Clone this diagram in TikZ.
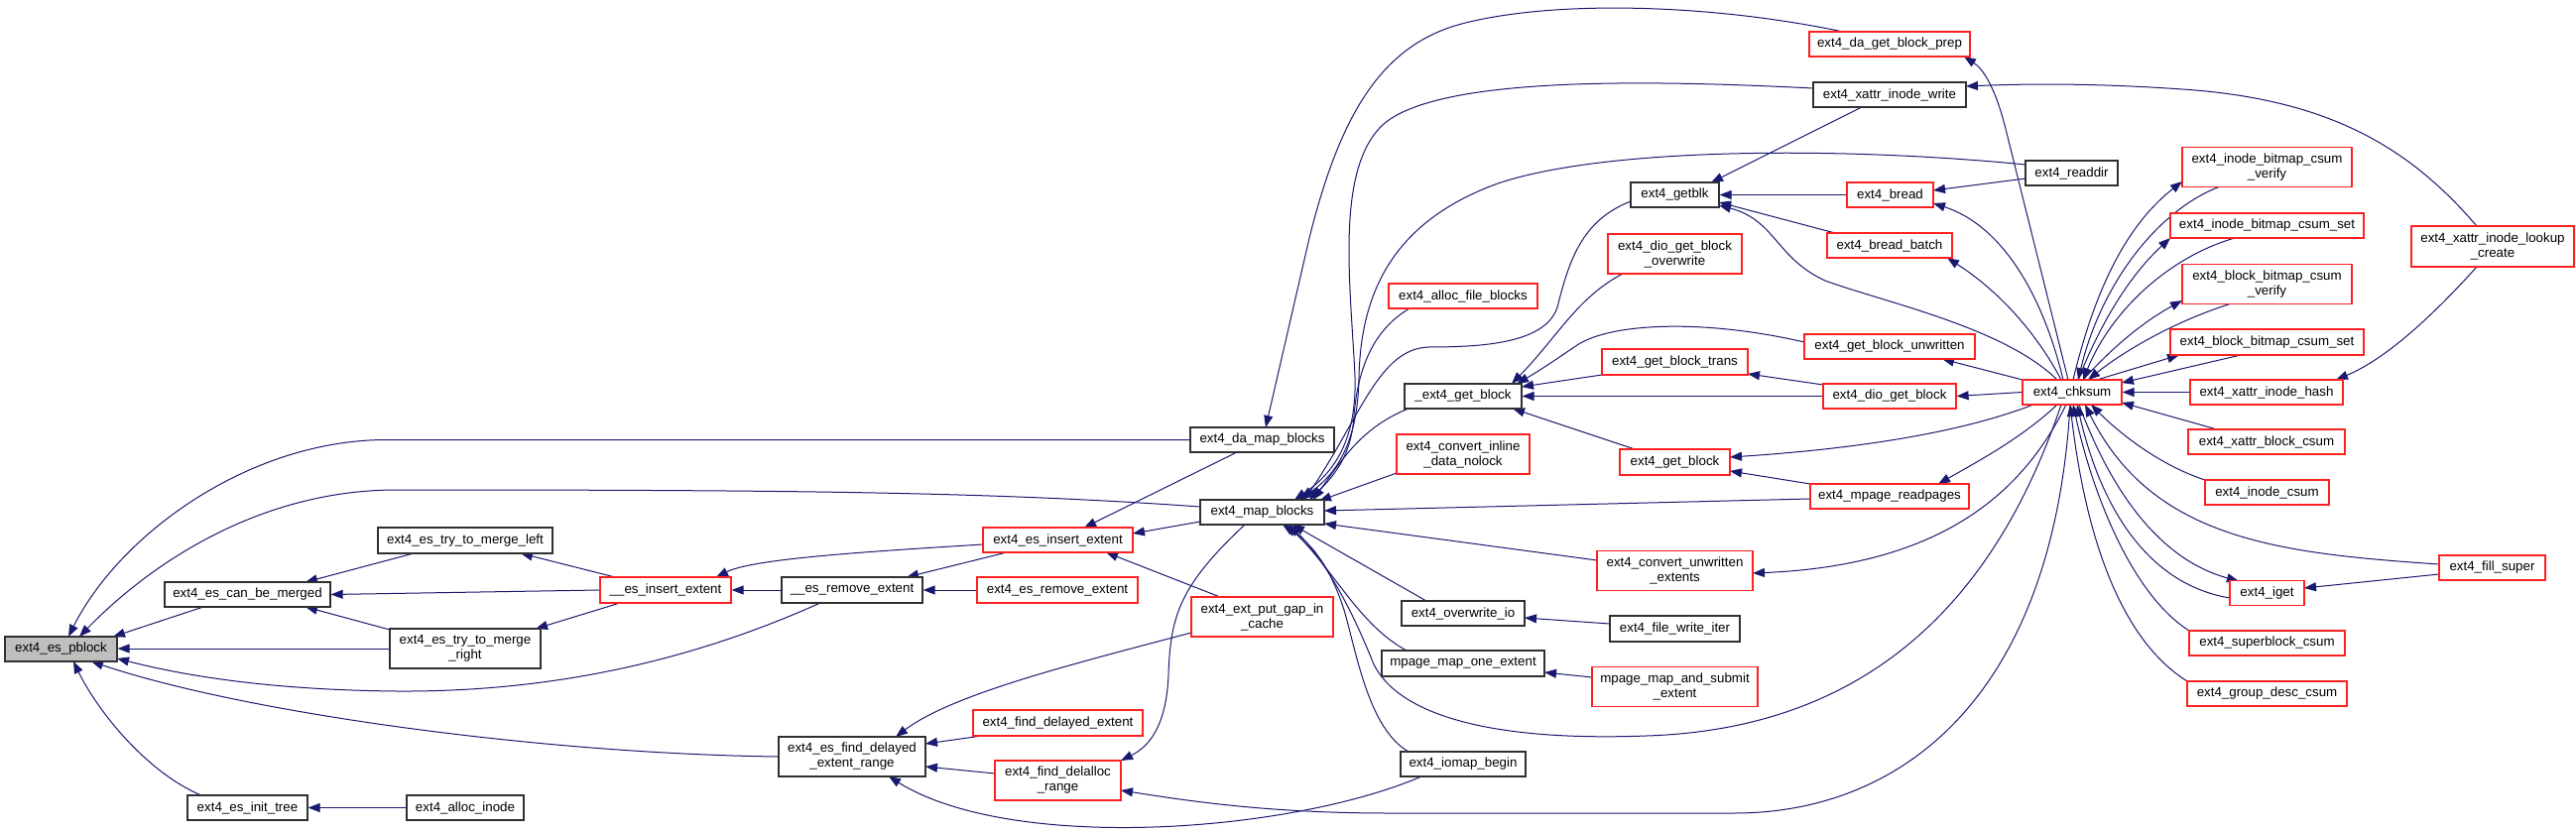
\documentclass[tikz,border=0pt]{standalone}
\usepackage{fontspec}
\setmainfont{Liberation Sans}
\usetikzlibrary{arrows.meta}
\definecolor{edgec}{HTML}{191970}
\definecolor{redc}{HTML}{FF2020}
\definecolor{grayfill}{HTML}{BFBFBF}
\definecolor{blk}{HTML}{303030}
\newcommand\dxfont{\fontsize{13.33}{15}\selectfont}
\pgfdeclarelayer{back}
\pgfdeclarelayer{edges}
\pgfsetlayers{back,edges,main}
\begin{document}
\begin{tikzpicture}[x=1pt,y=-1pt,
  nb/.style={draw=blk, line width=1.2pt, fill=white, inner sep=0pt, align=center, font=\dxfont},
  nr/.style={nb, draw=redc},
  e/.style={draw=edgec, line width=1pt, -{Triangle[length=12pt,width=9pt]}}]
\begin{pgfonlayer}{back}
\fill[white] (0,0) rectangle (2597,840);
\end{pgfonlayer}
\useasboundingbox (0,0) rectangle (2597,840);
% nodes
\node[nb, fill=grayfill, minimum width=113pt, minimum height=25pt] (pblock) at (61.5,654.5) {ext4\_es\_pblock};
\node[nb, minimum width=167pt, minimum height=25pt] (canmerged) at (249.5,599.5) {ext4\_es\_can\_be\_merged};
\node[nb, minimum width=121pt, minimum height=25pt] (inittree) at (249.5,814.5) {ext4\_es\_init\_tree};
\node[nb, minimum width=176pt, minimum height=26pt] (mergeleft) at (469,545) {ext4\_es\_try\_to\_merge\_left};
\node[nb, minimum width=152pt, minimum height=40pt] (mergeright) at (469,654) {ext4\_es\_try\_to\_merge\\\_right};
\node[nb, minimum width=118pt, minimum height=25pt] (allocinode) at (469,814.5) {ext4\_alloc\_inode};
\node[nr, minimum width=132pt, minimum height=26pt] (esinsert) at (671,595) {\_\_es\_insert\_extent};
\node[nb, minimum width=142pt, minimum height=26pt] (esremove) at (859,595) {\_\_es\_remove\_extent};
\node[nb, minimum width=148pt, minimum height=40pt] (fdr) at (859,763) {ext4\_es\_find\_delayed\\\_extent\_range};
\node[nr, minimum width=151pt, minimum height=25pt] (esinsext) at (1066.5,544.5) {ext4\_es\_insert\_extent};
\node[nr, minimum width=162pt, minimum height=26pt] (esremext) at (1066,595) {ext4\_es\_remove\_extent};
\node[nr, minimum width=171pt, minimum height=26pt] (finddelext) at (1066.5,729) {ext4\_find\_delayed\_extent};
\node[nr, minimum width=127pt, minimum height=40pt] (finddelalloc) at (1066.5,787) {ext4\_find\_delalloc\\\_range};
\node[nb, minimum width=145pt, minimum height=25pt] (damap) at (1272.5,443.5) {ext4\_da\_map\_blocks};
\node[nb, minimum width=125pt, minimum height=25pt] (mapb) at (1272.5,516.5) {ext4\_map\_blocks};
\node[nr, minimum width=143pt, minimum height=40pt] (putgap) at (1272.5,622) {ext4\_ext\_put\_gap\_in\\\_cache};
\node[nr, minimum width=150pt, minimum height=25pt] (allocfile) at (1475,298.5) {ext4\_alloc\_file\_blocks};
\node[nb, minimum width=89pt, minimum height=25pt] (getblk) at (1688.5,196.5) {ext4\_getblk};
\node[nr, minimum width=135pt, minimum height=40pt] (diooverwrite) at (1688.5,256) {ext4\_dio\_get\_block\\\_overwrite};
\node[nr, minimum width=147pt, minimum height=26pt] (gbtrans) at (1688.5,365) {ext4\_get\_block\_trans};
\node[nb, minimum width=118pt, minimum height=25pt] (exgb) at (1475,399.5) {\_ext4\_get\_block};
\node[nr, minimum width=134pt, minimum height=40pt] (convinline) at (1475,458) {ext4\_convert\_inline\\\_data\_nolock};
\node[nr, minimum width=111pt, minimum height=26pt] (getblock) at (1688.5,466) {ext4\_get\_block};
\node[nr, minimum width=157pt, minimum height=40pt] (convunwr) at (1688.5,575.5) {ext4\_convert\_unwritten\\\_extents};
\node[nb, minimum width=124pt, minimum height=25pt] (overwriteio) at (1475,618.5) {ext4\_overwrite\_io};
\node[nb, minimum width=131pt, minimum height=26pt] (filewrite) at (1688.5,634) {ext4\_file\_write\_iter};
\node[nb, minimum width=164pt, minimum height=26pt] (mpageone) at (1475,669) {mpage\_map\_one\_extent};
\node[nr, minimum width=167pt, minimum height=40pt] (mpagesubmit) at (1688.5,692.5) {mpage\_map\_and\_submit\\\_extent};
\node[nb, minimum width=126pt, minimum height=25pt] (iomap) at (1475,770.5) {ext4\_iomap\_begin};
\node[nr, minimum width=162pt, minimum height=25pt] (daprep) at (1905,44.5) {ext4\_da\_get\_block\_prep};
\node[nb, minimum width=154pt, minimum height=25pt] (xattrwrite) at (1905,95.5) {ext4\_xattr\_inode\_write};
\node[nr, minimum width=87pt, minimum height=25pt] (bread) at (1905.5,196.5) {ext4\_bread};
\node[nr, minimum width=126pt, minimum height=25pt] (breadbatch) at (1905,247.5) {ext4\_bread\_batch};
\node[nr, minimum width=172pt, minimum height=25pt] (gbunwr) at (1905,349.5) {ext4\_get\_block\_unwritten};
\node[nr, minimum width=134pt, minimum height=25pt] (diogb) at (1905,399.5) {ext4\_dio\_get\_block};
\node[nr, minimum width=160pt, minimum height=25pt] (mpreadpages) at (1905,500.5) {ext4\_mpage\_readpages};
\node[nb, minimum width=93pt, minimum height=25pt] (readdir) at (2088.5,174.5) {ext4\_readdir};
\node[nr, minimum width=100pt, minimum height=25pt] (chksum) at (2089,395.5) {ext4\_chksum};
\node[nr, minimum width=171pt, minimum height=40pt] (ibcv) at (2285.5,168.5) {ext4\_inode\_bitmap\_csum\\\_verify};
\node[nr, minimum width=195pt, minimum height=25pt] (ibcs) at (2285.5,227.5) {ext4\_inode\_bitmap\_csum\_set};
\node[nr, minimum width=171pt, minimum height=40pt] (bbcv) at (2285.5,286.5) {ext4\_block\_bitmap\_csum\\\_verify};
\node[nr, minimum width=195pt, minimum height=26pt] (bbcs) at (2285.5,345) {ext4\_block\_bitmap\_csum\_set};
\node[nr, minimum width=154pt, minimum height=25pt] (xih) at (2285,395.5) {ext4\_xattr\_inode\_hash};
\node[nr, minimum width=158pt, minimum height=25pt] (xbc) at (2285,445.5) {ext4\_xattr\_block\_csum};
\node[nr, minimum width=125pt, minimum height=25pt] (icsum) at (2285.5,496.5) {ext4\_inode\_csum};
\node[nr, minimum width=75pt, minimum height=25pt] (iget) at (2285.5,598) {ext4\_iget};
\node[nr, minimum width=157pt, minimum height=25pt] (sbcsum) at (2285.5,648.5) {ext4\_superblock\_csum};
\node[nr, minimum width=161pt, minimum height=25pt] (gdcsum) at (2285.5,699.5) {ext4\_group\_desc\_csum};
\node[nr, minimum width=164pt, minimum height=41pt] (lookup) at (2513,248.5) {ext4\_xattr\_inode\_lookup\\\_create};
\node[nr, minimum width=107pt, minimum height=25pt] (fillsuper) at (2512.5,572.5) {ext4\_fill\_super};
% edges
\begin{pgfonlayer}{edges}
\draw[e] ([shift={(-44.5,12.5)}]canmerged.center) -- ([shift={(52.5,-12.5)}]pblock.center);
\draw[e] (mergeright.west) -- (pblock.east |- mergeright.west);
\draw[e] (damap.west) -- (390,443.5) .. controls (250,443.5) and (120,540) .. ([shift={(7.5,-12.5)}]pblock.center);
\draw[e] ([shift={(-62.5,-5.5)}]mapb.center) .. controls (1000,496) and (800,494) .. (400,494) .. controls (260,494) and (150,570) .. ([shift={(18.5,-12.5)}]pblock.center);
\draw[e] ([shift={(-32,13)}]esremove.center) .. controls (700,665) and (560,698) .. (400,697) .. controls (290,696) and (200,685) .. ([shift={(56.5,9.5)}]pblock.center);
\draw[e] (fdr.west) .. controls (550,760) and (250,720) .. ([shift={(30.5,12.5)}]pblock.center);
\draw[e] ([shift={(-46.5,-12.5)}]inittree.center) .. controls (150,780) and (100,720) .. ([shift={(12.5,12.5)}]pblock.center);
\draw[e] (allocinode.west) -- (inittree.east);
\draw[e] ([shift={(-52,13)}]mergeleft.center) -- ([shift={(58.5,-12.5)}]canmerged.center);
\draw[e] ([shift={(-76,-19)}]mergeright.center) -- ([shift={(58.5,12.5)}]canmerged.center);
\draw[e] (esinsert.west) -- (canmerged.east);
\draw[e] ([shift={(-51,-13)}]esinsert.center) -- ([shift={(56,13)}]mergeleft.center);
\draw[e] ([shift={(-46,13)}]esinsert.center) -- ([shift={(71,-20)}]mergeright.center);
\draw[e] (esremove.west) -- (esinsert.east);
\draw[e] ([shift={(-75.5,4.5)}]esinsext.center) .. controls (880,556) and (760,563) .. ([shift={(51,-13)}]esinsert.center);
\draw[e] ([shift={(-51.5,12.5)}]esinsext.center) -- ([shift={(55,-13)}]esremove.center);
\draw[e] (esremext.west) -- (esremove.east);
\draw[e] ([shift={(-25.5,12.5)}]damap.center) -- ([shift={(26.5,-12.5)}]esinsext.center);
\draw[e] ([shift={(-62.5,9.5)}]mapb.center) -- ([shift={(75.5,-6.5)}]esinsext.center);
\draw[e] ([shift={(-42.5,-20)}]putgap.center) -- ([shift={(48.5,12.5)}]esinsext.center);
\draw[e] ([shift={(-71.5,16)}]putgap.center) .. controls (1080,670) and (960,700) .. ([shift={(44,-20)}]fdr.center);
\draw[e] ([shift={(-76.5,13)}]finddelext.center) -- ([shift={(74,-13)}]fdr.center);
\draw[e] ([shift={(-63.5,-7)}]finddelalloc.center) -- ([shift={(74,10)}]fdr.center);
\draw[e] ([shift={(-42,12.5)}]iomap.center) .. controls (1300,840) and (1020,860) .. ([shift={(37,20)}]fdr.center);
\draw[e] ([shift={(-17.5,12.5)}]mapb.center) .. controls (1190,590) and (1180,620) .. (1178,680) .. controls (1176,730) and (1160,752) .. ([shift={(63.5,-20)}]finddelalloc.center);
\draw[e] ([shift={(-2,12.5)}]chksum.center) .. controls (2070,700) and (1920,820) .. (1748,820) -- (1400,820) .. controls (1280,820) and (1200,808) .. ([shift={(63.5,10)}]finddelalloc.center);
\draw[e] ([shift={(-47,-12.5)}]daprep.center) .. controls (1720,3) and (1560,0) .. (1470,25) .. controls (1390,48) and (1350,120) .. (1320,240) -- ([shift={(3.5,-12.5)}]damap.center);
\draw[e] ([shift={(-77,-6.5)}]xattrwrite.center) .. controls (1650,80) and (1450,78) .. (1395,125) .. controls (1345,170) and (1362,290) .. (1366,380) .. controls (1368,450) and (1340,480) .. ([shift={(32.5,-12.5)}]mapb.center);
\draw[e] ([shift={(-46.5,-8.5)}]readdir.center) .. controls (1860,148) and (1620,148) .. (1510,185) .. controls (1400,225) and (1372,300) .. (1370,380) .. controls (1369,450) and (1345,480) .. ([shift={(37.5,-12.5)}]mapb.center);
\draw[e] ([shift={(-44.5,6.5)}]getblk.center) .. controls (1595,222) and (1582,262) .. (1570,310) .. controls (1558,345) and (1500,350) .. (1440,350) .. controls (1390,352) and (1372,420) .. ([shift={(42.5,-12.5)}]mapb.center);
\draw[e] ([shift={(-54,12.5)}]allocfile.center) .. controls (1380,335) and (1368,380) .. (1365,420) .. controls (1362,460) and (1345,480) .. ([shift={(47.5,-12.5)}]mapb.center);
\draw[e] ([shift={(-55,12.5)}]exgb.center) .. controls (1375,430) and (1355,460) .. ([shift={(51.5,-12.5)}]mapb.center);
\draw[e] ([shift={(-67,19)}]convinline.center) -- ([shift={(57.5,-11.5)}]mapb.center);
\draw[e] ([shift={(-80,2.5)}]mpreadpages.center) -- ([shift={(62.5,-1.5)}]mapb.center);
\draw[e] ([shift={(-78.5,-10.5)}]convunwr.center) -- ([shift={(62.5,11.5)}]mapb.center);
\draw[e] ([shift={(-37,-12.5)}]overwriteio.center) -- ([shift={(30.5,12.5)}]mapb.center);
\draw[e] ([shift={(-57,-13)}]mpageone.center) .. controls (1370,630) and (1345,575) .. ([shift={(24.5,12.5)}]mapb.center);
\draw[e] ([shift={(-11,12.5)}]chksum.center) .. controls (2010,610) and (1880,735) .. (1660,742) .. controls (1500,748) and (1410,720) .. (1385,670) .. controls (1365,620) and (1340,570) .. ([shift={(27.5,12.5)}]mapb.center);
\draw[e] ([shift={(-55,-12.5)}]iomap.center) .. controls (1380,735) and (1368,660) .. (1355,615) .. controls (1342,575) and (1325,550) .. ([shift={(20.5,12.5)}]mapb.center);
\draw[e] ([shift={(-52.5,20)}]diooverwrite.center) .. controls (1590,300) and (1570,340) .. ([shift={(49,-12.5)}]exgb.center);
\draw[e] ([shift={(-73.5,13)}]gbtrans.center) -- ([shift={(59,-9.5)}]exgb.center);
\draw[e] ([shift={(-86,-4.5)}]gbunwr.center) .. controls (1720,322) and (1625,325) .. (1590,348) .. controls (1565,365) and (1550,375) .. ([shift={(54,-12.5)}]exgb.center);
\draw[e] (diogb.west) -- (exgb.east);
\draw[e] ([shift={(-40.5,-13)}]getblock.center) -- ([shift={(50,12.5)}]exgb.center);
\draw[e] ([shift={(-67,-11.5)}]diogb.center) -- ([shift={(73.5,12)}]gbtrans.center);
\draw[e] ([shift={(-39,12.5)}]chksum.center) .. controls (1980,435) and (1880,452) .. ([shift={(55.5,-5)}]getblock.center);
\draw[e] ([shift={(-80,-12.5)}]mpreadpages.center) -- ([shift={(55.5,9)}]getblock.center);
\draw[e] ([shift={(-15,12.5)}]chksum.center) .. controls (2040,440) and (2000,462) .. ([shift={(49,-12.5)}]mpreadpages.center);
\draw[e] ([shift={(-6,12.5)}]chksum.center) .. controls (2040,495) and (1960,570) .. ([shift={(78.5,2.5)}]convunwr.center);
\draw[e] ([shift={(-65.5,-5)}]filewrite.center) -- ([shift={(62,4.5)}]overwriteio.center);
\draw[e] ([shift={(-83.5,-9.5)}]mpagesubmit.center) -- ([shift={(82,9)}]mpageone.center);
\draw[e] ([shift={(-28,12.5)}]xattrwrite.center) -- ([shift={(36.5,-12.5)}]getblk.center);
\draw[e] (bread.west) -- (getblk.east);
\draw[e] ([shift={(-55,-12.5)}]breadbatch.center) -- ([shift={(44.5,7.5)}]getblk.center);
\draw[e] ([shift={(-15,-12.5)}]chksum.center) .. controls (2020,330) and (1900,305) .. (1840,283) .. controls (1790,260) and (1790,222) .. ([shift={(44.5,10.5)}]getblk.center);
\draw[e] ([shift={(-46.5,5.5)}]readdir.center) -- ([shift={(43.5,-4.5)}]bread.center);
\draw[e] ([shift={(-9,-12.5)}]chksum.center) .. controls (2060,300) and (2020,228) .. ([shift={(43.5,8.5)}]bread.center);
\draw[e] ([shift={(-11,-12.5)}]chksum.center) .. controls (2050,330) and (2010,290) .. ([shift={(58,12.5)}]breadbatch.center);
\draw[e] ([shift={(-50,-12.5)}]chksum.center) -- ([shift={(53,12.5)}]gbunwr.center);
\draw[e] (chksum.west) -- (diogb.east);
\draw[e] ([shift={(-4,-12.5)}]chksum.center) -- (2022,130) .. controls (2012,90) and (2000,70) .. ([shift={(75,12.5)}]daprep.center);
\draw[e] ([shift={(-16,-20.5)}]lookup.center) .. controls (2430,150) and (2350,100) .. (2200,90) .. controls (2100,83) and (2030,85) .. ([shift={(77,-8.5)}]xattrwrite.center);
\draw[e] ([shift={(1,-12.5)}]chksum.center) .. controls (2110,300) and (2140,230) .. ([shift={(-85.5,14.5)}]ibcv.center);
\draw[e] ([shift={(-48.5,20)}]ibcv.center) .. controls (2180,210) and (2120,280) .. ([shift={(6,-12.5)}]chksum.center);
\draw[e] ([shift={(6,-12.5)}]chksum.center) .. controls (2120,320) and (2150,275) .. ([shift={(-97.5,12.5)}]ibcs.center);
\draw[e] ([shift={(-32.5,12.5)}]ibcs.center) .. controls (2190,258) and (2130,310) .. ([shift={(11,-12.5)}]chksum.center);
\draw[e] ([shift={(11,-12.5)}]chksum.center) .. controls (2130,350) and (2160,325) .. ([shift={(-85.5,16.5)}]bbcv.center);
\draw[e] ([shift={(-37.5,20)}]bbcv.center) .. controls (2190,325) and (2140,355) .. ([shift={(16,-12.5)}]chksum.center);
\draw[e] ([shift={(25,-12.5)}]chksum.center) -- ([shift={(-88.5,13)}]bbcs.center);
\draw[e] ([shift={(-26.5,13)}]bbcs.center) -- ([shift={(50,-9.5)}]chksum.center);
\draw[e] (xih.west) -- (chksum.east);
\draw[e] ([shift={(-50,-12.5)}]xbc.center) -- ([shift={(50,10.5)}]chksum.center);
\draw[e] ([shift={(-62.5,-12.5)}]icsum.center) .. controls (2180,470) and (2140,440) .. ([shift={(19,12.5)}]chksum.center);
\draw[e] ([shift={(-53.5,-3.5)}]fillsuper.center) .. controls (2300,558) and (2170,545) .. ([shift={(13,12.5)}]chksum.center);
\draw[e] ([shift={(7,12.5)}]chksum.center) .. controls (2130,500) and (2180,565) .. ([shift={(-28.5,-12)}]iget.center);
\draw[e] ([shift={(-37.5,5)}]iget.center) .. controls (2170,590) and (2120,520) .. ([shift={(5,12.5)}]chksum.center);
\draw[e] ([shift={(-53.5,6.5)}]fillsuper.center) -- ([shift={(37.5,-5)}]iget.center);
\draw[e] ([shift={(-78.5,-12.5)}]sbcsum.center) .. controls (2150,600) and (2110,500) .. ([shift={(1,12.5)}]chksum.center);
\draw[e] ([shift={(-80.5,-12.5)}]gdcsum.center) .. controls (2130,640) and (2100,520) .. ([shift={(-2,12.5)}]chksum.center);
\draw[e] ([shift={(-16,20.5)}]lookup.center) .. controls (2460,310) and (2410,360) .. ([shift={(70,-12.5)}]xih.center);
\end{pgfonlayer}
\end{tikzpicture}
\end{document}
